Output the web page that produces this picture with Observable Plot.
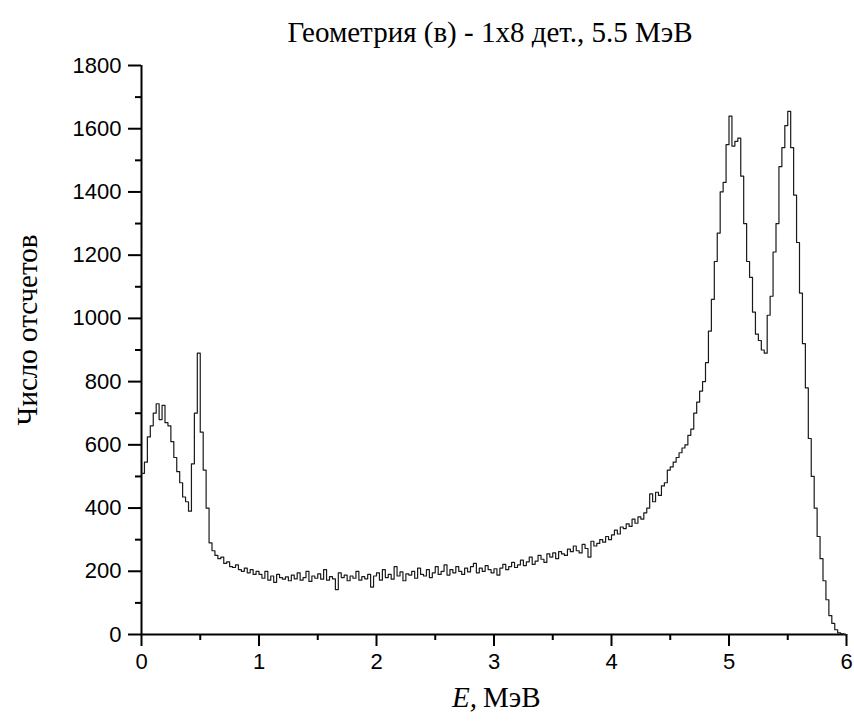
<!DOCTYPE html>
<html>
<head>
<meta charset="utf-8">
<script src="https://cdn.jsdelivr.net/npm/d3@7"></script>
<script src="https://cdn.jsdelivr.net/npm/@observablehq/plot@0.6"></script>
<style>
  html, body { margin: 0; padding: 0; background: #fff; }
</style>
</head>
<body>
<div id="chart"></div>
<script>
// Histogram counts, bins of 0.025 MeV starting at 0 MeV
const counts = [
  510, 545, 625, 660, 700, 730, 680, 725, 670, 660,
  610, 560, 515, 480, 435, 420, 390, 540, 700, 890,
  640, 520, 400, 290, 265, 250, 240, 245, 225, 230,
  215, 212, 220, 205, 200, 210, 195, 205, 190, 200,
  190, 178, 200, 172, 185, 165, 190, 180, 175, 182,
  170, 188, 176, 195, 172, 180, 200, 168, 185, 178,
  192, 175, 205, 172, 183, 176, 142, 195, 180, 188,
  170, 185, 178, 200, 172, 183, 176, 190, 150, 185,
  195, 172, 205, 180, 190, 175, 215, 185, 198, 170,
  192, 188, 200, 178, 210, 190, 185, 205, 180, 195,
  215, 190, 200, 220, 188, 205, 195, 215, 200, 190,
  210, 198, 215, 225, 195, 210, 200, 218, 205, 195,
  208, 188, 210, 222, 205, 215, 228, 212, 220, 235,
  218, 230, 245, 222, 232, 250, 238, 228, 255, 245,
  258, 240, 262, 255, 250, 270, 262, 280, 265, 258,
  285, 272, 245, 295, 280, 288, 300, 292, 310, 300,
  315, 330, 318, 340, 335, 350, 342, 365, 352, 372,
  365, 385, 400, 445, 420, 450, 440, 470, 480, 520,
  530, 545, 560, 575, 590, 600, 630, 650, 700, 735,
  770, 800, 860, 960, 1060, 1180, 1270, 1400, 1430, 1550,
  1640, 1545, 1560, 1570, 1450, 1300, 1180, 1130, 1020, 950,
  930, 900, 890, 1010, 1070, 1210, 1300, 1480, 1540, 1610,
  1655, 1540, 1390, 1240, 1080, 920, 780, 620, 500, 400,
  310, 240, 170, 110, 60, 35, 15, 5, 2, 0
];
const binWidth = 0.025;

const yMajor = [0, 200, 400, 600, 800, 1000, 1200, 1400, 1600, 1800];
const yMinor = [100, 300, 500, 700, 900, 1100, 1300, 1500, 1700];
const xMajor = [0, 1, 2, 3, 4, 5, 6];
const xMinor = [0.5, 1.5, 2.5, 3.5, 4.5, 5.5];

const titleText = "Геометрия (в) - 1x8 дет., 5.5 МэВ";
const yLabel = "Число отсчетов";
const xLabelVar = "E,";
const xLabelUnit = "МэВ";

const data = counts.map((c, i) => ({e: i * binWidth, c}));
data.push({e: counts.length * binWidth, c: counts[counts.length - 1]});

const serif = "'Liberation Serif', 'Times New Roman', serif";
const fmt = d3.format("d");

const chart = Plot.plot({
  width: 854,
  height: 724,
  marginTop: 65,
  marginBottom: 90,
  marginLeft: 141,
  marginRight: 8,
  style: {fontFamily: "'Liberation Sans', Arial, sans-serif", fontSize: "22px", color: "#000", background: "#fff", overflow: "visible"},
  x: {domain: [0, 6]},
  y: {domain: [0, 1800]},
  marks: [
    Plot.axisY({ticks: yMajor, tickSize: 13, tickPadding: 7, strokeWidth: 2, tickFormat: fmt, label: null, fontSize: 22}),
    Plot.axisY({ticks: yMinor, tickSize: 6, strokeWidth: 2, tickFormat: () => "", label: null}),
    Plot.axisX({ticks: xMajor, tickSize: 12, tickPadding: 7, strokeWidth: 2, tickFormat: fmt, label: null, fontSize: 22}),
    Plot.axisX({ticks: xMinor, tickSize: 6, strokeWidth: 2, tickFormat: () => "", label: null}),
    Plot.ruleX([0], {y1: 0, y2: 1800, strokeWidth: 2, stroke: "#000"}),
    Plot.ruleY([0], {x1: 0, x2: 6, strokeWidth: 2, stroke: "#000"}),
    Plot.line(data, {x: "e", y: "c", curve: "step-after", stroke: "#1a1a1a", strokeWidth: 1.2}),
    Plot.text([titleText], {frameAnchor: "top-left", dx: 146, dy: -44, textAnchor: "start", fontFamily: serif, fontSize: 29, fill: "#000"}),
    Plot.text([yLabel], {frameAnchor: "left", dx: -114, dy: -20, rotate: -90, textAnchor: "middle", fontFamily: serif, fontSize: 29, fill: "#000"}),
    Plot.text([xLabelVar], {frameAnchor: "bottom", dx: -17, dy: 72, textAnchor: "end", fontFamily: serif, fontStyle: "italic", fontSize: 29, fill: "#000"}),
    Plot.text([xLabelUnit], {frameAnchor: "bottom", dx: -11, dy: 72, textAnchor: "start", fontFamily: serif, fontSize: 29, fill: "#000"})
  ]
});
document.getElementById("chart").appendChild(chart);
</script>
</body>
</html>
